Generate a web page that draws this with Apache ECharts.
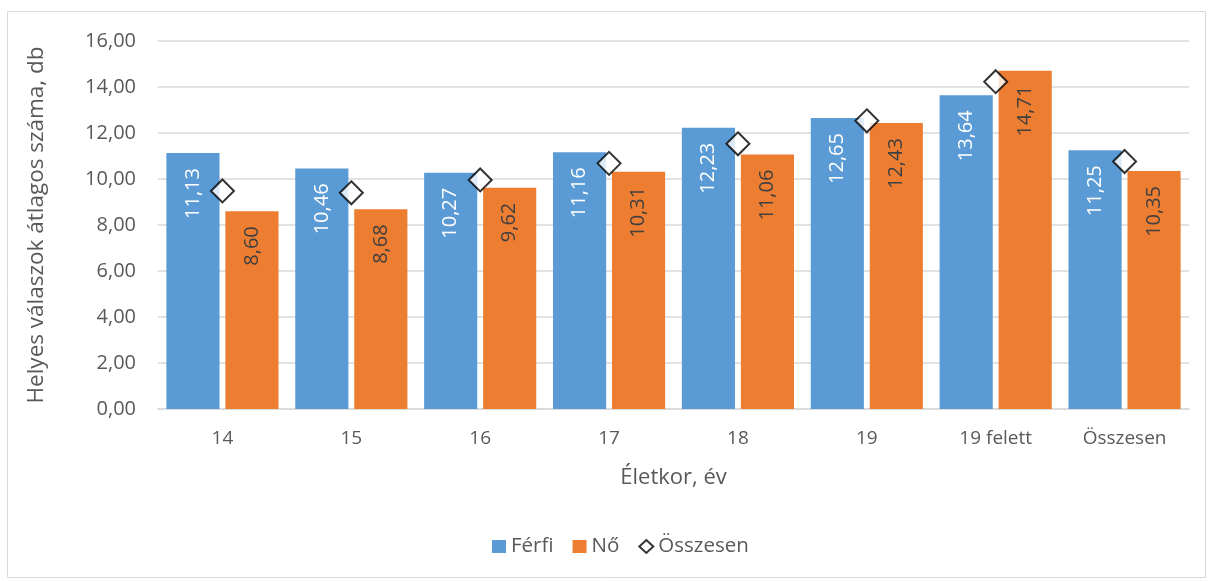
<!DOCTYPE html>
<html>
<head>
<meta charset="utf-8">
<script src="https://cdn.jsdelivr.net/npm/echarts@6/dist/echarts.min.js"></script>
<style>
  html, body { margin: 0; padding: 0; background: #fff; }
  #chart { width: 1214px; height: 581px; }
</style>
</head>
<body>
<div id="chart"></div>
<script>
// Adatok
const categories = ['14', '15', '16', '17', '18', '19', '19 felett', 'Összesen']
const ferfi = [11.13, 10.46, 10.27, 11.16, 12.23, 12.65, 13.64, 11.25]
const no = [8.60, 8.68, 9.62, 10.31, 11.06, 12.43, 14.71, 10.35]
const osszesen = [9.48, 9.40, 9.96, 10.68, 11.53, 12.53, 14.23, 10.76]
const yTicks = { min: 0, max: 16, interval: 2 }

const textColor = '#595959'
const font = 'Open Sans'

function fmt(v) {
  return Number(v).toFixed(2).replace('.', ',')
}

const chart = echarts.init(document.getElementById('chart'))

const barLabel = (color) => ({
  show: true,
  position: 'insideTop',
  rotate: 90,
  align: 'right',
  verticalAlign: 'middle',
  distance: 15,
  color: color,
  fontFamily: font,
  fontSize: 20,
  formatter: (p) => fmt(p.value),
})

chart.setOption({
  animation: false,
  textStyle: { fontFamily: font },
  graphic: [
    {
      type: 'rect',
      shape: { x: 7.5, y: 11.5, width: 1198, height: 566 },
      style: { fill: 'none', stroke: '#d9d9d9', lineWidth: 1 },
      silent: true,
    },
  ],
  grid: {
    left: 158,
    right: 25,
    top: 41,
    bottom: 172,
  },
  legend: {
    bottom: 19,
    left: 487,
    itemWidth: 14,
    itemHeight: 13,
    itemGap: 19,
    textStyle: { color: textColor, fontSize: 20.5, fontFamily: font },
    data: [
      { name: 'Férfi', icon: 'rect' },
      { name: 'Nő', icon: 'rect' },
      { name: 'Összesen', icon: 'diamond', itemStyle: { color: '#fff', borderColor: '#000', borderWidth: 2 } },
    ],
  },
  xAxis: {
    type: 'category',
    data: categories,
    name: 'Életkor, év',
    nameLocation: 'middle',
    nameGap: 58,
    nameTextStyle: { color: textColor, fontSize: 22, fontFamily: font },
    axisLine: { lineStyle: { color: '#d9d9d9', width: 1.5 } },
    axisTick: { show: false },
    axisLabel: { color: textColor, fontSize: 19, margin: 20, fontFamily: font },
  },
  yAxis: {
    type: 'value',
    min: yTicks.min,
    max: yTicks.max,
    interval: yTicks.interval,
    name: 'Helyes válaszok átlagos száma, db',
    nameLocation: 'middle',
    nameGap: 110,
    nameTextStyle: { color: textColor, fontSize: 22.5, fontFamily: font },
    axisLine: { show: false },
    axisTick: { show: false },
    splitLine: { lineStyle: { color: '#d9d9d9', width: 1.5 } },
    axisLabel: { color: textColor, fontSize: 20, margin: 22, fontFamily: font, formatter: (v) => fmt(v) },
  },
  series: [
    {
      name: 'Férfi',
      type: 'bar',
      data: ferfi,
      barGap: '11%',
      barCategoryGap: '13%',
      itemStyle: { color: '#5b9bd5' },
      label: barLabel('#ffffff'),
    },
    {
      name: 'Nő',
      type: 'bar',
      data: no,
      itemStyle: { color: '#ed7d31' },
      label: barLabel('#404040'),
    },
    {
      name: 'Összesen',
      type: 'scatter',
      data: osszesen,
      symbol: 'diamond',
      symbolSize: 23,
      itemStyle: { color: '#ffffff', borderColor: '#000000', borderWidth: 2 },
      z: 5,
    },
  ],
})
</script>
</body>
</html>
